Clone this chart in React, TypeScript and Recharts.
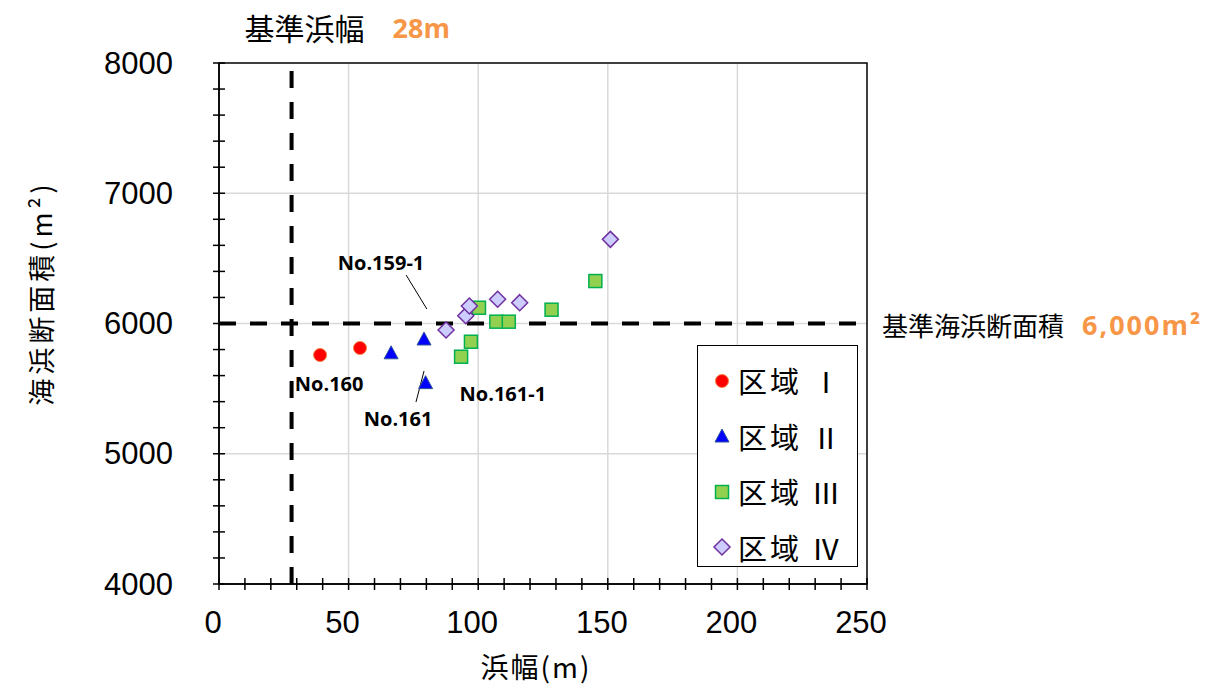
import React from 'react';
import {
  ScatterChart,
  Scatter,
  XAxis,
  YAxis,
  CartesianGrid,
  ReferenceLine,
  ReferenceArea,
  Legend,
} from 'recharts';

// 区域ごとの浜幅(m)と海浜断面積(m2)
const zone1 = [
  { x: 39.0, y: 5758 },
  { x: 54.4, y: 5812 },
];
const zone2 = [
  { x: 66.4, y: 5775 },
  { x: 79.1, y: 5881 },
  { x: 79.7, y: 5546 },
];
const zone3 = [
  { x: 100.3, y: 6121 },
  { x: 107.0, y: 6014 },
  { x: 111.8, y: 6014 },
  { x: 97.2, y: 5860 },
  { x: 93.4, y: 5745 },
  { x: 128.3, y: 6106 },
  { x: 145.2, y: 6326 },
];
const zone4 = [
  { x: 87.6, y: 5950 },
  { x: 95.2, y: 6060 },
  { x: 96.6, y: 6134 },
  { x: 107.5, y: 6186 },
  { x: 116.0, y: 6160 },
  { x: 151.0, y: 6646 },
];

const xTicks = [0, 10, 20, 30, 40, 50, 60, 70, 80, 90, 100, 110, 120, 130, 140, 150, 160, 170, 180, 190, 200, 210, 220, 230, 240, 250];
const xMajor = [0, 50, 100, 150, 200, 250];
const yTicks = [4000, 4200, 4400, 4600, 4800, 5000, 5200, 5400, 5600, 5800, 6000, 6200, 6400, 6600, 6800, 7000, 7200, 7400, 7600, 7800, 8000];
const yMajor = [4000, 5000, 6000, 7000, 8000];

const STD_WIDTH = 28;
const STD_AREA = 6000;

// 測線名の注記 (データ座標)
const notes = [
  { x: 62.5, y: 6472, text: 'No.159-1' },
  { x: 42.5, y: 5536, text: 'No.160' },
  { x: 69.1, y: 5267, text: 'No.161' },
  { x: 109.5, y: 5466, text: 'No.161-1' },
];
const leaders = [
  [{ x: 72.2, y: 6372 }, { x: 80.2, y: 6111 }],
  [{ x: 79.1, y: 5635 }, { x: 76.0, y: 5397 }],
];

const ORANGE = '#F79646';
const JP = '"Noto Sans CJK JP", sans-serif';
const NUM = '"Liberation Sans", Arial, sans-serif';
const BOLD = '"Open Sans", sans-serif';

const Circle = ({ cx, cy }: any) => (
  <circle cx={cx} cy={cy} r={6.5} fill="#FF0000" stroke="#F08040" strokeWidth={1} />
);
const Triangle = ({ cx, cy }: any) => (
  <path d={`M${cx},${cy - 7} L${cx + 7},${cy + 6} L${cx - 7},${cy + 6} Z`} fill="#0000FF" stroke="#2F5597" strokeWidth={1} />
);
const Square = ({ cx, cy }: any) => (
  <rect x={cx - 6.5} y={cy - 6.5} width={13} height={13} fill="#92D050" stroke="#00B050" strokeWidth={1.5} />
);
const Diamond = ({ cx, cy }: any) => (
  <path d={`M${cx},${cy - 8} L${cx + 8},${cy} L${cx},${cy + 8} L${cx - 8},${cy} Z`} fill="#CCCCFF" stroke="#7030A0" strokeWidth={1.5} />
);
const NoteText = ({ cx, cy, payload }: any) => (
  <text x={cx} y={cy} textAnchor="middle" dominantBaseline="central" fontFamily={BOLD} fontWeight={700} fontSize={20} fill="#000">
    {payload.text}
  </text>
);

const series = [
  { name: '区域 Ⅰ', data: zone1, shape: Circle },
  { name: '区域 Ⅱ', data: zone2, shape: Triangle },
  { name: '区域 Ⅲ', data: zone3, shape: Square },
  { name: '区域 Ⅳ', data: zone4, shape: Diamond },
];

const XTick = ({ x, y, payload }: any) => (
  <g>
    <line x1={x} x2={x} y1={y - 6} y2={y + 6} stroke="#000" strokeWidth={1.5} />
    {xMajor.includes(payload.value) && (
      <text x={x - 6} y={y + 38} textAnchor="middle" dominantBaseline="central" fontFamily={NUM} fontSize={31} fill="#000">
        {payload.value}
      </text>
    )}
  </g>
);

const YTick = ({ x, y, payload }: any) => (
  <g>
    <line x1={x - 6} x2={x + 6} y1={y} y2={y} stroke="#000" strokeWidth={1.5} />
    {yMajor.includes(payload.value) && (
      <text x={x - 46} y={y} textAnchor="end" dominantBaseline="central" fontFamily={NUM} fontSize={31} fill="#000">
        {payload.value}
      </text>
    )}
  </g>
);

const LegendBox = () => (
  <div
    style={{
      width: 161,
      height: 222,
      boxSizing: 'border-box',
      border: '1.5px solid #000',
      background: '#fff',
      paddingTop: 7,
    }}
  >
    {series.map((s) => {
      const Shape = s.shape;
      return (
        <div key={s.name} style={{ display: 'flex', alignItems: 'center', height: 55.5, whiteSpace: 'nowrap' }}>
          <svg width={40} height={30} style={{ flex: 'none' }}>
            <Shape cx={24} cy={15} />
          </svg>
          <span style={{ fontFamily: JP, fontSize: 29, letterSpacing: 3, color: '#000', lineHeight: 1 }}>{s.name}</span>
        </div>
      );
    })}
  </div>
);

const WidthLabel = ({ viewBox }: any) => (
  <text x={viewBox.x - 47} y={viewBox.y - 36} dominantBaseline="central">
    <tspan fontFamily={JP} fontSize={30} fill="#000">基準浜幅</tspan>
    <tspan dx={28} fontFamily={BOLD} fontSize={27} fontWeight={700} fill={ORANGE}>28m</tspan>
  </text>
);

const AreaLabel = ({ viewBox }: any) => (
  <text x={viewBox.x + viewBox.width + 15} y={viewBox.y} dominantBaseline="central">
    <tspan fontFamily={JP} fontSize={26} fill="#000">基準海浜断面積</tspan>
    <tspan dx={18} fontFamily={BOLD} fontSize={27} fontWeight={700} letterSpacing={2} fill={ORANGE}>6,000m²</tspan>
  </text>
);

const YTitle = ({ viewBox }: any) => {
  const cx = viewBox.x - 79;
  const cy = viewBox.y + 230;
  return (
    <text x={cx} y={cy} transform={`rotate(-90, ${cx}, ${cy})`} textAnchor="middle" dominantBaseline="central" fontFamily={JP} fontSize={27} letterSpacing={4} fill="#000">
      海浜断面積(m²)
    </text>
  );
};

const XTitle = ({ viewBox }: any) => (
  <text x={viewBox.x + 317} y={viewBox.y + 82} textAnchor="middle" dominantBaseline="central" fontFamily={JP} fontSize={28} letterSpacing={2} fill="#000">
    浜幅(m)
  </text>
);

export default function App() {
  return (
    <div style={{ position: 'absolute', left: 0, top: 0, width: 1232, height: 690, background: '#fff' }}>
      <ScatterChart width={1232} height={690} margin={{ top: 63, right: 365, bottom: 46, left: 119 }}>
        <CartesianGrid
          stroke="#D9D9D9"
          strokeWidth={1.5}
          verticalValues={[50, 100, 150, 200]}
          horizontalValues={[5000, 6000, 7000]}
        />
        <XAxis
          type="number"
          dataKey="x"
          domain={[0, 250]}
          ticks={xTicks}
          interval={0}
          height={60}
          tickSize={0}
          tickMargin={0}
          tickLine={false}
          axisLine={{ stroke: '#000', strokeWidth: 1.5 }}
          tick={<XTick />}
          label={<XTitle />}
        />
        <YAxis
          type="number"
          dataKey="y"
          domain={[4000, 8000]}
          ticks={yTicks}
          interval={0}
          width={100}
          tickSize={0}
          tickMargin={0}
          tickLine={false}
          axisLine={{ stroke: '#000', strokeWidth: 1.5 }}
          tick={<YTick />}
          label={<YTitle />}
        />
        <ReferenceArea x1={0} x2={250} y1={4000} y2={8000} fill="none" stroke="#000" strokeWidth={1.5} />
        <ReferenceLine x={STD_WIDTH} stroke="#000" strokeWidth={4} strokeDasharray="17 14" label={<WidthLabel />} />
        <ReferenceLine y={STD_AREA} stroke="#000" strokeWidth={4} strokeDasharray="17 14" label={<AreaLabel />} />
        {leaders.map((seg, i) => (
          <ReferenceLine key={i} segment={seg} stroke="#000" strokeWidth={1} />
        ))}
        {series.map((s) => (
          <Scatter key={s.name} name={s.name} data={s.data} shape={s.shape} isAnimationActive={false} />
        ))}
        <Scatter name="notes" data={notes} shape={NoteText} legendType="none" isAnimationActive={false} />
        <Legend
          layout="vertical"
          align="center"
          verticalAlign="middle"
          content={<LegendBox />}
          wrapperStyle={{ position: 'absolute', left: 697, top: 345, width: 161, height: 222 }}
        />
      </ScatterChart>
    </div>
  );
}
